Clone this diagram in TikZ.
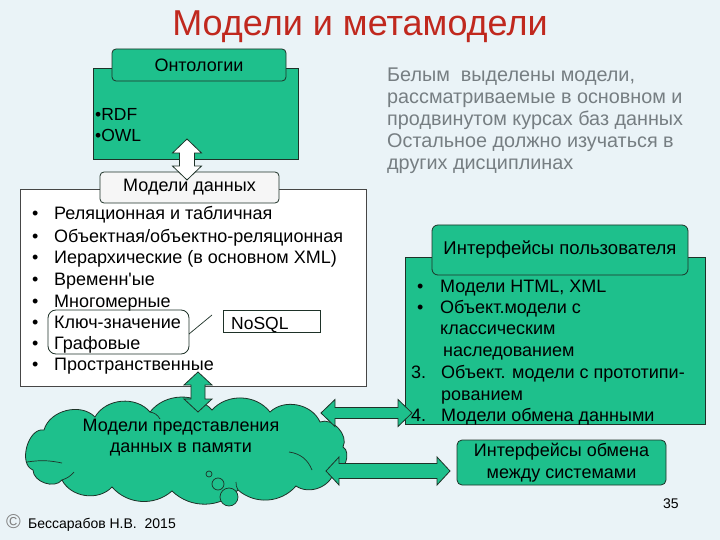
\documentclass[tikz,border=0pt]{standalone}
\usepackage{fontspec}
\setmainfont{Liberation Sans}
\definecolor{bgc}{RGB}{234,243,247}
\definecolor{grn}{RGB}{30,192,140}
\definecolor{edgec}{RGB}{30,50,40}
\definecolor{ttl}{RGB}{192,40,30}
\definecolor{gtxt}{RGB}{118,126,130}
\definecolor{tabgray}{RGB}{246,246,246}
\definecolor{framec}{RGB}{70,70,70}
% horizontal double block arrow: [style]{x1}{x2}{y}{shaft half}{head half}{head length}
\newcommand{\hdarr}[7][]{\draw[#1] (#2,#4) -- ({#2+#7},{#4-#6}) -- ({#2+#7},{#4-#5}) -- ({#3-#7},{#4-#5}) -- ({#3-#7},{#4-#6}) -- (#3,#4) -- ({#3-#7},{#4+#6}) -- ({#3-#7},{#4+#5}) -- ({#2+#7},{#4+#5}) -- ({#2+#7},{#4+#6}) -- cycle;}
% vertical double block arrow: [style]{x}{y1}{y2}{shaft half}{head half}{head length}
\newcommand{\vdarr}[7][]{\draw[#1] (#2,#3) -- ({#2+#6},{#3+#7}) -- ({#2+#5},{#3+#7}) -- ({#2+#5},{#4-#7}) -- ({#2+#6},{#4-#7}) -- (#2,#4) -- ({#2-#6},{#4-#7}) -- ({#2-#5},{#4-#7}) -- ({#2-#5},{#3+#7}) -- ({#2-#6},{#3+#7}) -- cycle;}
\tikzset{
  greenbox/.style={fill=grn, draw=edgec, line width=0.8pt, inner sep=0},
  tabbox/.style={fill=grn, draw=edgec, line width=0.8pt, rounded corners=4pt, inner sep=0, font=\fontsize{18}{21}\selectfont},
  txt/.style={anchor=base west, inner sep=0, font=\fontsize{18}{21}\selectfont},
  rtxt/.style={anchor=base west, inner sep=0, font=\fontsize{18}{21}\selectfont},
  gtx/.style={anchor=base west, inner sep=0, text=gtxt, font=\fontsize{19.8}{22}\selectfont},
  blockarrow/.style={fill=grn, draw=edgec, line width=0.8pt},
  puff/.style={bend left=#1},
}
\begin{document}
\begin{tikzpicture}[x=1pt,y=-1pt]
\useasboundingbox (0,0) rectangle (720,540);
\fill[bgc] (0,0) rectangle (720,540);

% title
\node[anchor=base, inner sep=0, text=ttl, font=\fontsize{36}{40}\selectfont] (title) at (360,36) {Модели и метамодели};

% ontologies
\node[greenbox, minimum width=205, minimum height=91] (onto) at (195.5,113.5) {};
\node[tabbox, minimum width=174, minimum height=32] (ontotab) at (199,65) {Онтологии};
\node[txt, font=\fontsize{17.5}{20}\selectfont] (rdf) at (95,121) {•RDF};
\node[txt, font=\fontsize{17.5}{20}\selectfont] (owl) at (95,142) {•OWL};

% grey note
\node[gtx] (g1) at (387,82) {Белым\ \ выделены модели,};
\node[gtx] (g2) at (387,104) {рассматриваемые в основном и};
\node[gtx] (g3) at (387,126) {продвинутом курсах баз данных};
\node[gtx] (g4) at (387,148) {Остальное должно изучаться в};
\node[gtx] (g5) at (387,170) {других дисциплинах};

% data models
\node[fill=white, draw=framec, line width=0.8pt, minimum width=346, minimum height=197, inner sep=0] (dm) at (193,287.5) {};
\foreach \yy/\tt [count=\i] in {220/{Реляционная и табличная}, 242/{Объектная/объектно-реляционная}, 263/{Иерархические (в основном XML)}, 285/{Временн\textquotesingle ые}, 307/{Многомерные}, 328/{Ключ-значение}, 349/{Графовые}, 370/{Пространственные}}{
  \node[txt] (b\i) at (32,\yy) {•};
  \node[txt] (d\i) at (54,\yy) {\tt};
}
\draw[edgec, line width=0.8pt, rounded corners=8pt] (48,310) rectangle (189,354);
\coordinate (hlend) at (189,334);
\node[draw=edgec, fill=white, line width=0.8pt, minimum width=97, minimum height=22, inner sep=0] (nosql) at (271.5,321) {};
\node[txt, font=\fontsize{17.5}{20}\selectfont] (nosqltxt) at (231,329) {NoSQL};
\coordinate (nosqlend) at (212,315);
\draw[edgec, line width=0.7pt] (hlend) -- (nosqlend);

% white arrow and data-models tab
\node[fill=tabgray, draw=edgec, line width=0.8pt, rounded corners=4pt, minimum width=179, minimum height=31, inner sep=0, font=\fontsize{18}{21}\selectfont] (dmtab) at (189.5,187.5) {Модели данных};
\vdarr[fill=white, draw=edgec, line width=0.8pt]{187}{139}{180}{7.5}{14.5}{14}

% user interfaces
\node[greenbox, minimum width=300, minimum height=167] (ui) at (555,340.5) {};
\node[tabbox, minimum width=256, minimum height=50, rounded corners=6pt, font=\fontsize{18.5}{21}\selectfont] (uitab) at (560,250) {Интерфейсы пользователя};
\node[rtxt] (u1b) at (417,292) {•};
\node[rtxt] (u1) at (440,292) {Модели HTML, XML};
\node[rtxt] (u2b) at (417,313) {•};
\node[rtxt] (u2) at (440,313) {Объект.модели с};
\node[rtxt] (u3) at (440,334) {классическим};
\node[rtxt] (u4) at (443,356) {наследованием};
\node[rtxt] (u5n) at (411,378) {3.};
\node[rtxt] (u5) at (441,378) {Объект. модели с прототипи-};
\node[rtxt] (u6) at (441,400) {рованием};
\node[rtxt] (u7n) at (411,421) {4.};
\node[rtxt] (u7) at (441,421) {Модели обмена данными};

% exchange interfaces
\node[greenbox, rounded corners=5pt, minimum width=209, minimum height=45, align=center, font=\fontsize{18}{22}\selectfont] (xch) at (561.5,462.5) {Интерфейсы обмена\\между системами};

% cloud
\draw[fill=grn, draw=edgec, line width=0.8pt]
  (33,470) to[puff=85] (44,430) to[puff=60] (95,417) to[puff=55] (150,412)
  to[puff=50] (212,410) to[puff=50] (270,412) to[puff=55] (320,422)
  to[puff=70] (343,447) to[puff=80] (334,472) to[puff=55] (296,486)
  to[puff=45] (238,490) to[puff=45] (172,491) to[puff=45] (112,487)
  to[puff=55] (62,480) to[puff=70] cycle;
\draw[edgec, line width=0.7pt] (27,462) to[bend left=10] (62,463);
\draw[edgec, line width=0.7pt] (62,480) to[bend right=15] (74,472);
\draw[edgec, line width=0.7pt] (150,412) to[bend left=25] (160,419);
\draw[edgec, line width=0.7pt] (289,452) to[bend left=30] (312,470);
\draw[edgec, line width=0.7pt] (238,490) to[bend left=15] (236,482);
\coordinate (mem) at (191,452);
\node[align=center, inner sep=0, font=\fontsize{18}{21}\selectfont] (memtxt) at (181,438) {Модели представления\\данных в памяти};
\draw[edgec, line width=0.7pt, fill=grn] (209,474) circle (3);
\draw[edgec, line width=0.7pt, fill=grn] (218,484) circle (6);
\draw[edgec, line width=0.7pt, fill=grn] (229,497) circle (9);

% green arrows
\vdarr[blockarrow]{198}{372}{412}{7}{14}{13}
\hdarr[blockarrow]{321}{412}{413}{5.5}{13.5}{14}
\hdarr[blockarrow]{326}{450}{471}{7.5}{14}{13}

% footer
\node[anchor=base west, inner sep=0, text=gray, font=\fontsize{20}{22}\selectfont] (copy) at (6,528) {©};
\node[anchor=base west, inner sep=0, font=\fontsize{14}{17}\selectfont] (author) at (28,528) {Бессарабов Н.В.\ \ 2015};
\node[anchor=base west, inner sep=0, font=\fontsize{14}{16}\selectfont] (pg) at (663,508) {35};
\end{tikzpicture}
\end{document}
